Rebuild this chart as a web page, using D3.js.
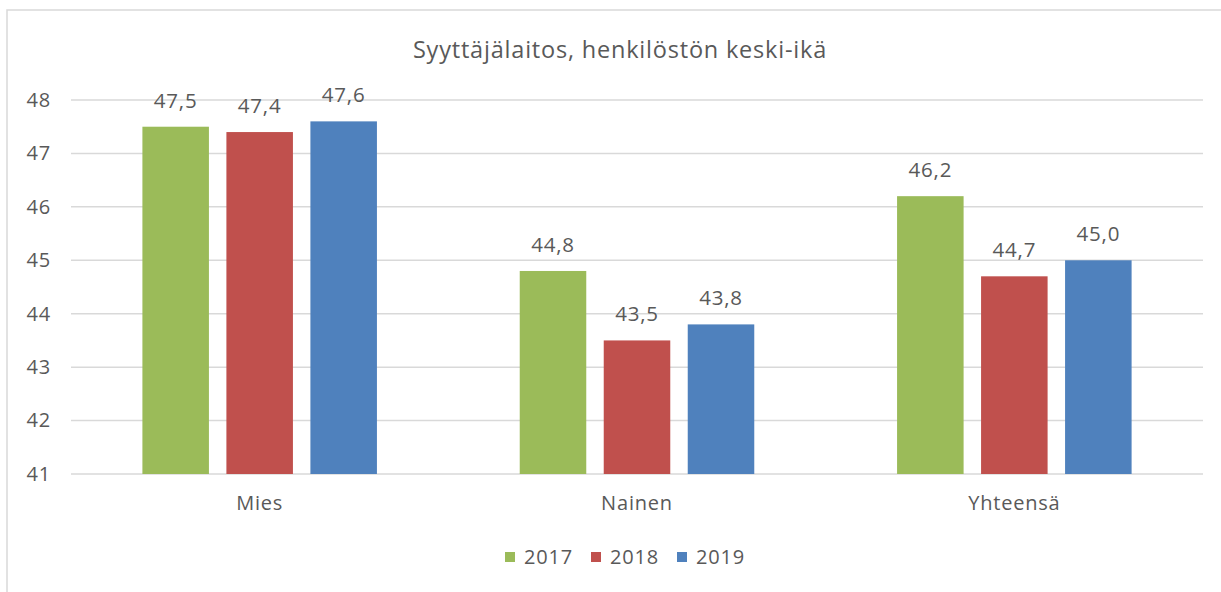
<!DOCTYPE html>
<html>
<head>
<meta charset="utf-8">
<script src="https://cdn.jsdelivr.net/npm/d3@7"></script>
<style>
  body { margin: 0; background: #fff; }
  text { font-family: "Open Sans", sans-serif; fill: #595959; letter-spacing: 0.8px; }
</style>
</head>
<body>
<svg width="1221" height="592"></svg>
<script>
var categories = ["Mies", "Nainen", "Yhteensä"];
var years = ["2017", "2018", "2019"];
var values2017 = [47.5, 44.8, 46.2];
var values2018 = [47.4, 43.5, 44.7];
var values2019 = [47.6, 43.8, 45.0];
var yTicks = [41, 42, 43, 44, 45, 46, 47, 48];
var colors = ["#9BBB59", "#C0504D", "#4F81BD"];
var title = "Syyttäjälaitos, henkilöstön keski-ikä";

var series = [values2017, values2018, values2019];
var rows = categories.map(function (c, i) {
    return { cat: c, vals: years.map(function (y, j) { return { year: y, value: series[j][i], color: colors[j] }; }) };
});

var svg = d3.select('svg');
var padding = {t: 100, r: 18, b: 118, l: 71};
var chartWidth = 1221 - padding.l - padding.r;
var chartHeight = 592 - padding.t - padding.b;

// chart frame (cut off at right and bottom like the screenshot)
svg.append('rect')
    .attr('x', 7).attr('y', 10)
    .attr('width', 1240).attr('height', 620)
    .attr('fill', 'none')
    .attr('stroke', '#d9d9d9')
    .attr('stroke-width', 1.5);

var g = svg.append('g').attr('transform', 'translate(' + padding.l + ',' + padding.t + ')');

var x0 = d3.scaleBand().domain(categories).range([0, chartWidth]);
var x1 = d3.scaleBand().domain(years).range([0, x0.bandwidth()])
    .paddingInner(0.208).paddingOuter(0.85);
var y = d3.scaleLinear().domain([41, 48]).range([chartHeight, 0]);

// gridlines
g.selectAll('.grid')
    .data(yTicks)
    .enter().append('line')
    .attr('class', 'grid')
    .attr('x1', 0).attr('x2', chartWidth)
    .attr('y1', function (d) { return y(d); })
    .attr('y2', function (d) { return y(d); })
    .attr('stroke', '#d9d9d9')
    .attr('stroke-width', 1.5);

// y axis labels
var yAxis = d3.axisLeft(y).tickValues(yTicks).tickSize(0).tickPadding(20)
    .tickFormat(d3.format('d'));
g.append('g').call(yAxis)
    .call(function (s) { s.select('.domain').remove(); })
    .selectAll('text')
    .attr('font-size', '20px')
    .style('font-family', '"Open Sans", sans-serif')
    .attr('fill', '#595959');

// x axis labels
var xAxis = d3.axisBottom(x0).tickSize(0).tickPadding(22);
g.append('g').attr('transform', 'translate(0,' + chartHeight + ')').call(xAxis)
    .call(function (s) { s.select('.domain').remove(); })
    .selectAll('text')
    .attr('font-size', '20px')
    .style('font-family', '"Open Sans", sans-serif')
    .attr('fill', '#595959');

// bars
var groups = g.selectAll('.cat')
    .data(rows)
    .enter().append('g')
    .attr('class', 'cat')
    .attr('transform', function (d) { return 'translate(' + x0(d.cat) + ',0)'; });

groups.selectAll('rect')
    .data(function (d) { return d.vals; })
    .enter().append('rect')
    .attr('x', function (d) { return x1(d.year); })
    .attr('y', function (d) { return y(d.value); })
    .attr('width', x1.bandwidth())
    .attr('height', function (d) { return chartHeight - y(d.value); })
    .attr('fill', function (d) { return d.color; });

// value labels
var fmt = function (v) { return d3.format('.1f')(v).replace('.', ','); };
groups.selectAll('.lbl')
    .data(function (d) { return d.vals; })
    .enter().append('text')
    .attr('class', 'lbl')
    .attr('x', function (d) { return x1(d.year) + x1.bandwidth() / 2; })
    .attr('y', function (d) { return y(d.value) - 19; })
    .attr('text-anchor', 'middle')
    .attr('font-size', '20.5px')
    .text(function (d) { return fmt(d.value); });

// title
svg.append('text')
    .attr('x', 620).attr('y', 58)
    .attr('text-anchor', 'middle')
    .attr('font-size', '23.5px')
    .text(title);

// legend
var legend = svg.append('g').attr('transform', 'translate(505,552)');
var li = legend.selectAll('g')
    .data(years)
    .enter().append('g')
    .attr('transform', function (d, i) { return 'translate(' + (i * 86) + ',0)'; });
li.append('rect')
    .attr('width', 10).attr('height', 10)
    .attr('fill', function (d, i) { return colors[i]; });
li.append('text')
    .attr('x', 19).attr('y', 12)
    .attr('font-size', '20px')
    .text(function (d) { return d; });
</script>
</body>
</html>
